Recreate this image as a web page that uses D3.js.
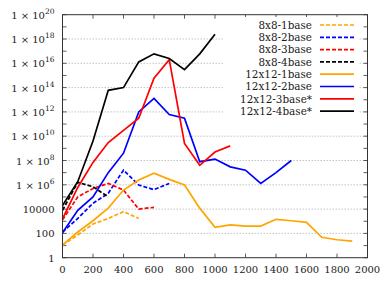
<!DOCTYPE html>
<html>
<head>
<meta charset="utf-8">
<script src="https://cdn.jsdelivr.net/npm/d3@7"></script>
<style>
  body { margin: 0; background: #fff; }
  svg text { font-family: "DejaVu Serif", serif; fill: #1a1a1a; }
</style>
</head>
<body>
<div id="container"></div>
<script>
const width = 391
const height = 282
const margin = {left: 62.5, right: 23.5, top: 14.7, bottom: 24.3}

// x values start at 0 and step 100
const xStep = 100
const names = ["8x8-1base", "8x8-2base", "8x8-3base", "8x8-4base",
               "12x12-1base", "12x12-2base", "12x12-3base*", "12x12-4base*"]
const colors = ["orange", "blue", "red", "black", "orange", "blue", "red", "black"]
const dashed = [true, true, true, true, false, false, false, false]

const s8x8_1 = [11, 74, 590, 1700, 6200, 1700]
const s8x8_2 = [130, 1700, 3e4, 2e5, 1.6e7, 9.5e5, 4e5, 1.3e6]
const s8x8_3 = [1300, 1e5, 5e5, 1.3e6, 3.7e5, 1e4, 1.4e4]
const s8x8_4 = [8000, 1.6e6, 7e5, 1e5]
const s12_1 = [11, 130, 1100, 1.2e4, 3.7e5, 2.5e6, 9e6, 2.8e6, 9.5e5, 1.2e4, 320, 500, 400, 400, 1450, 1100, 800, 48, 30, 23]
const s12_2 = [115, 8000, 1e5, 1e7, 4e8, 1e12, 1.3e13, 6e11, 3e11, 8e7, 1.3e8, 3e7, 1.6e7, 1.3e6, 1e7, 1e8]
const s12_3 = [1600, 6e5, 7e7, 3e9, 3e10, 3e11, 6e14, 2e16, 2.5e9, 4e7, 5e8, 1.6e9]
const s12_4 = [2e4, 1.8e6, 4e9, 6e13, 1e14, 1.3e16, 6e16, 2.5e16, 3e15, 6e16, 2.5e18]
const series = [s8x8_1, s8x8_2, s8x8_3, s8x8_4, s12_1, s12_2, s12_3, s12_4]

const xTicks = d3.range(0, 2001, 200)
const yMajor = d3.range(0, 21, 2)   // exponents with labels + grid
const yMinor = d3.range(0, 21, 1)

const svg = d3.select("#container").append("svg").attr("width", width).attr("height", height)

const x = d3.scaleLinear().domain([0, 2000]).range([margin.left, width - margin.right])
const y = d3.scaleLog().domain([1, 1e20]).range([height - margin.bottom, margin.top])

// dotted grid
svg.append("g").selectAll("line")
  .data(yMajor.filter(e => e > 0 && e < 20))
  .enter().append("line")
  .attr("x1", x(0)).attr("x2", x(2000))
  .attr("y1", e => y(Math.pow(10, e))).attr("y2", e => y(Math.pow(10, e)))
  .attr("stroke", "#b5b5b5").attr("stroke-width", 0.8)
  .attr("stroke-dasharray", "1.5,1.5")

// ticks on all four sides, pointing in
const tl = 4
const ticks = svg.append("g").attr("stroke", "#333").attr("stroke-width", 0.8)
xTicks.forEach(t => {
  ticks.append("line").attr("x1", x(t)).attr("x2", x(t)).attr("y1", y(1)).attr("y2", y(1) - tl)
  ticks.append("line").attr("x1", x(t)).attr("x2", x(t)).attr("y1", y(1e20)).attr("y2", y(1e20) + tl)
})
yMinor.forEach(e => {
  const yy = y(Math.pow(10, e))
  ticks.append("line").attr("x1", x(0)).attr("x2", x(0) + tl).attr("y1", yy).attr("y2", yy)
  ticks.append("line").attr("x1", x(2000)).attr("x2", x(2000) - tl).attr("y1", yy).attr("y2", yy)
})

// x labels
svg.append("g").selectAll("text")
  .data(xTicks).enter().append("text")
  .attr("x", d => x(d)).attr("y", y(1) + 15)
  .attr("text-anchor", "middle").attr("font-size", 10)
  .text(d => d)

// y labels
const yl = svg.append("g")
yMajor.forEach(e => {
  const t = yl.append("text")
    .attr("x", x(0) - 8).attr("y", y(Math.pow(10, e)) + 4)
    .attr("text-anchor", "end").attr("font-size", 10)
  if (e < 6) {
    t.text(Math.pow(10, e))
  } else {
    t.append("tspan").text("1 × 10")
    t.append("tspan").attr("font-size", 7.5).attr("dy", -5).text(e)
  }
})

// lines
const line = d3.line()
  .x((d, i) => x(i * xStep))
  .y(d => y(d))

svg.append("g").selectAll("path")
  .data(series).enter().append("path")
  .attr("d", d => line(d))
  .attr("fill", "none")
  .attr("stroke", (d, i) => colors[i])
  .attr("stroke-width", 1.7)
  .attr("stroke-linejoin", "miter")
  .attr("stroke-dasharray", (d, i) => dashed[i] ? "4,2" : null)

// frame
svg.append("rect")
  .attr("x", x(0)).attr("y", y(1e20))
  .attr("width", x(2000) - x(0)).attr("height", y(1) - y(1e20))
  .attr("fill", "none").attr("stroke", "#333").attr("stroke-width", 1)

// legend
const legend = svg.append("g")
legend.append("rect")
  .attr("x", 223).attr("y", 17).attr("width", 136).attr("height", 101)
  .attr("fill", "#fff")
names.forEach((n, i) => {
  const ly = 25 + i * 12.3
  legend.append("text")
    .attr("x", 312).attr("y", ly + 3.8)
    .attr("text-anchor", "end").attr("font-size", 10.4)
    .text(n)
  legend.append("line")
    .attr("x1", 320).attr("x2", 354).attr("y1", ly).attr("y2", ly)
    .attr("stroke", colors[i]).attr("stroke-width", 1.7)
    .attr("stroke-dasharray", dashed[i] ? "4,2" : null)
})
</script>
</body>
</html>
